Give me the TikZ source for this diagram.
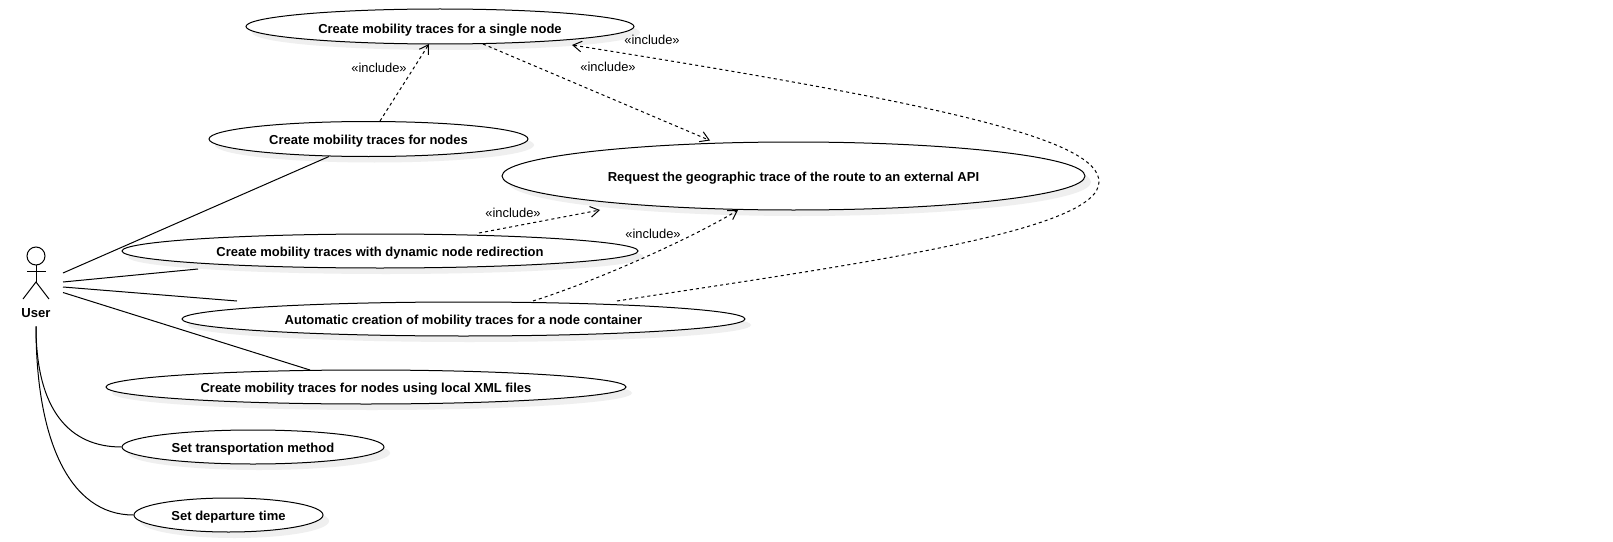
\documentclass[tikz,border=0pt]{standalone}
\usepackage{fontspec}
\setmainfont{Liberation Sans}
\usetikzlibrary{shapes.geometric,shadows,arrows.meta}
\tikzset{
  usecase/.style={ellipse,draw=black,fill=white,line width=0.75pt,inner sep=0pt,text height=9.8pt,text depth=2pt,font=\fontsize{9.75}{11}\selectfont\bfseries,
    drop shadow={shadow xshift=4.5pt,shadow yshift=-4.5pt,fill=shadowgrey,opacity=1}},
  assoc/.style={draw=black,line width=0.75pt},
  incl/.style={draw=black,line width=0.75pt,dash pattern=on 2.3pt off 2.3pt,-{Straight Barb[length=6.5pt,width=8pt]}},
  incltext/.style={font=\fontsize{9.7}{11}\selectfont,inner sep=0pt},
  actorbox/.style={minimum width=40.5pt,minimum height=72pt,inner sep=0pt},
  actortext/.style={font=\fontsize{9.8}{11}\selectfont\bfseries,inner sep=0pt}
}
\definecolor{shadowgrey}{HTML}{EFEFEF}
\begin{document}
\begin{tikzpicture}[x=0.75pt,y=-0.75pt]
\useasboundingbox[fill=white] (0,0) rectangle (1613,542);
% actor
\node[actorbox] (actor) at (36,278) {};
\node[actortext] (userlabel) at (36,313.2) {User};
\draw[assoc] (36,256) circle (9);
\draw[assoc] (27,271) -- (46,271);
\draw[assoc] (36,265) -- (36,282);
\draw[assoc] (23,299) -- (36,282) -- (49,299);
% use cases
\node[usecase,text height=11.8pt,minimum width=291pt,minimum height=26.25pt] (single) at (440,26.5) {Create mobility traces for a single node};
\node[usecase,minimum width=239.25pt,minimum height=26.25pt] (nodes) at (368.5,139) {Create mobility traces for nodes};
\node[usecase,minimum width=437.25pt,minimum height=51pt] (request) at (793.5,176) {Request the geographic trace of the route to an external API};
\node[usecase,minimum width=387pt,minimum height=25.5pt] (dynamic) at (380,251) {Create mobility traces with dynamic node redirection};
\node[usecase,minimum width=422.25pt,minimum height=25.5pt] (auto) at (463.5,319) {Automatic creation of mobility traces for a node container};
\node[usecase,minimum width=390pt,minimum height=25.5pt] (xml) at (366,387) {Create mobility traces for nodes using local XML files};
\node[usecase,minimum width=196.5pt,minimum height=25.5pt] (transport) at (253,447) {Set transportation method};
\node[usecase,minimum width=141.75pt,minimum height=25.5pt] (departure) at (228.5,515) {Set departure time};
% associations
\draw[assoc] ([shift={(27,-5)}]actor.center) -- ([shift={(-39.5,17.5)}]nodes.center);
\draw[assoc] ([shift={(27,4)}]actor.center) -- ([shift={(-182,18)}]dynamic.center);
\draw[assoc] ([shift={(27,9)}]actor.center) -- ([shift={(-226.5,-18)}]auto.center);
\draw[assoc] ([shift={(27,14.5)}]actor.center) -- ([shift={(-56,-17)}]xml.center);
\draw[assoc] (actor.south) .. controls +(0,84) and +(-52,0) .. (transport.west);
\draw[assoc] (actor.south) .. controls +(0,114) and +(-64,0) .. (departure.west);
% includes
\draw[incl] ([shift={(11.5,-18)}]nodes.center) -- ([shift={(-11,17.5)}]single.center);
\draw[incl] ([shift={(43,17.5)}]single.center) -- ([shift={(-83.5,-35.5)}]request.center);
\draw[incl] ([shift={(99,-18)}]dynamic.center) -- ([shift={(-193.5,34)}]request.center);
\draw[incl] ([shift={(69.5,-18)}]auto.center) .. controls +(75,-24) and +(-35,22) .. ([shift={(-55.5,34)}]request.center);
\draw[incl] ([shift={(153.5,-18)}]auto.center) .. controls (850,265) and (1099,232) .. (1099,182) .. controls (1099,140) and (950,105) .. ([shift={(132,18.5)}]single.center);
% labels
\node[incltext] (l1) at (379,68) {«include»};
\node[incltext] (l2) at (608,67) {«include»};
\node[incltext] (l3) at (652,40) {«include»};
\node[incltext] (l4) at (513,213) {«include»};
\node[incltext] (l5) at (653,234) {«include»};
\end{tikzpicture}
\end{document}
